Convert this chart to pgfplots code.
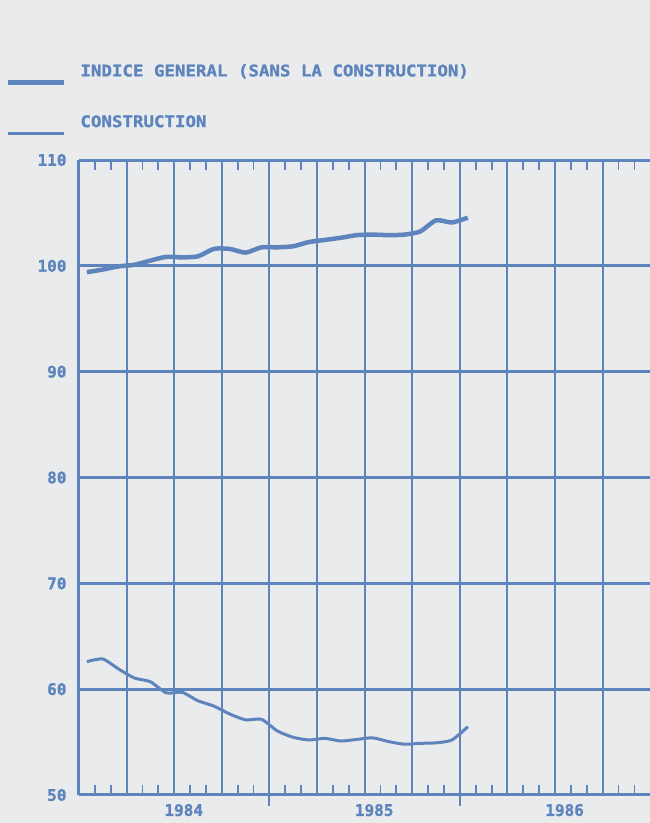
\documentclass[border=0pt]{standalone}
\usepackage{pgfplots}
\pgfplotsset{compat=1.18}
\usepackage{fontspec}
\newfontfamily\plt{DejaVu Sans Mono}[FakeStretch=1.09, BoldFeatures={FakeBold=1.2}]
\newfontfamily\pltt{DejaVu Sans Mono}[BoldFeatures={FakeBold=1.2}]
\definecolor{ink}{RGB}{93,132,189}
\definecolor{paper}{RGB}{233,235,236}

\begin{document}
\begin{tikzpicture}
\fill[paper] (0pt,0pt) rectangle (650pt,823pt);
\useasboundingbox (0pt,0pt) rectangle (650pt,823pt);
% horizontal grid and the year marks below the bottom line
\begin{axis}[
    at={(79pt,28pt)}, anchor=south west,
    scale only axis, width=571.3pt, height=635pt,
    xmin=0, xmax=36, ymin=50, ymax=110,
    axis x line*=bottom, axis y line*=left,
    axis line style={draw=none},
    xtick={12,24}, xticklabels={},
    ytick={50,60,...,110}, yticklabels={},
    ytick style={draw=none},
    tick align=outside, major tick length=11pt,
    xtick style={ink, line width=2pt},
    ymajorgrids,
    major grid style={ink, line width=2.8pt},
]
\end{axis}
% main axis: vertical grid, monthly ticks, data, legend
\begin{axis}[
    at={(79pt,28pt)}, anchor=south west,
    scale only axis, width=571.3pt, height=635pt,
    xmin=0, xmax=36, ymin=50, ymax=110,
    axis y line*=left,
    axis line style={ink, line width=3pt},
    xtick={0,3,...,33}, xticklabels={},
    minor xtick={1,2,4,5,7,8,10,11,13,14,16,17,19,20,22,23,25,26,28,29,31,32,34,35},
    ytick={50,60,...,110},
    tick align=inside,
    major tick length=0pt, minor tick length=10pt,
    minor tick style={ink, line width=1.8pt},
    xmajorgrids,
    major grid style={ink, line width=2pt},
    extra x ticks={6.6,18.6,30.6},
    extra x tick labels={1984,1985,1986},
    extra x tick style={grid=none, major tick length=0pt},
    /pgf/number format/assume math mode=true,
    ticklabel style={text=ink, font=\pltt\bfseries\fontsize{16}{16}\selectfont},
    yticklabel style={xshift=-9pt},
    xticklabel style={yshift=-5.5pt},
    legend cell align=left,
    legend style={at={(-0.1278,1.1606)}, anchor=north west, draw=none, fill=none,
        inner sep=0pt, outer sep=0pt, row sep=25pt, column sep=14pt,
        nodes={inner sep=0pt, text=ink, font=\plt\bfseries\fontsize{16}{16}\selectfont}},
    legend image code/.code={\path (0pt,11pt) (56pt,-11pt);
        \draw[#1] (0pt,-11pt) -- (56pt,-11pt);},
]
\addplot[ink, line width=4.5pt, line join=round, smooth, tension=0.4] coordinates {
  (0.5,99.4) (1.5,99.65) (2.5,99.95) (3.5,100.1) (4.5,100.5) (5.5,100.85)
  (6.5,100.8) (7.5,100.9) (8.5,101.6) (9.5,101.6) (10.5,101.25) (11.5,101.75)
  (12.5,101.75) (13.5,101.85) (14.5,102.25) (15.5,102.45) (16.5,102.65) (17.5,102.9)
  (18.5,102.95) (19.5,102.9) (20.5,102.95) (21.5,103.25) (22.5,104.3) (23.5,104.1)
  (24.5,104.55)};
\addplot[ink, line width=3pt, line join=round, smooth, tension=0.4] coordinates {
  (0.5,62.6) (1.5,62.85) (2.5,61.9) (3.5,61.05) (4.5,60.7) (5.5,59.65)
  (6.5,59.7) (7.5,58.9) (8.5,58.4) (9.5,57.65) (10.5,57.1) (11.5,57.15)
  (12.5,56.05) (13.5,55.45) (14.5,55.2) (15.5,55.35) (16.5,55.1) (17.5,55.25)
  (18.5,55.4) (19.5,55.05) (20.5,54.8) (21.5,54.88) (22.5,54.93) (23.5,55.2)
  (24.5,56.45)};
\legend{\raisebox{0pt}[11.7pt][0pt]{INDICE GENERAL (SANS LA CONSTRUCTION)},
        \raisebox{0pt}[11.7pt][0pt]{CONSTRUCTION}}
\end{axis}
\end{tikzpicture}
\end{document}
